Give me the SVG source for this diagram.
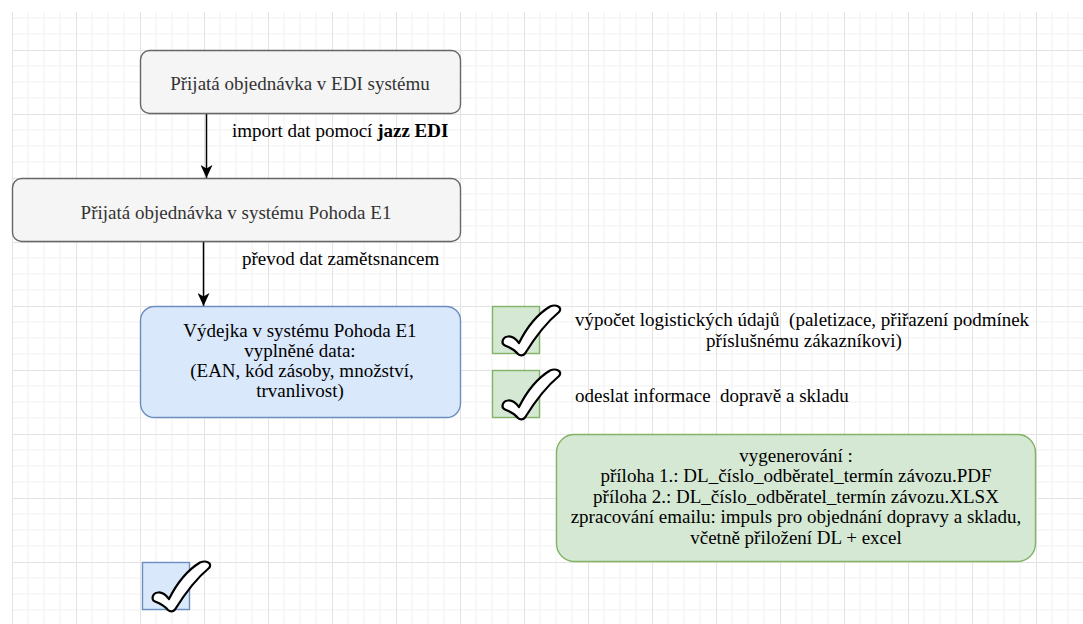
<svg xmlns="http://www.w3.org/2000/svg" width="1083" height="624" viewBox="0 0 1083 624">
  <style>
    text { font-family: "Liberation Serif", "Times New Roman", serif; font-size: 19px; fill: #000; }
    .gray { fill: #f5f5f5; stroke: #666666; stroke-width: 1.4; }
    .blue { fill: #dae8fc; stroke: #6c8ebf; stroke-width: 1.4; }
    .green { fill: #d5e8d4; stroke: #82b366; stroke-width: 1.4; }
    .dark { fill: #333333; }
    .mid { text-anchor: middle; }
    .edge { stroke: #000; stroke-width: 1.5; fill: none; }
    .tick { fill: #fff; stroke: #000; stroke-width: 2.2; stroke-linejoin: round; }
  </style>
  <defs>
    <pattern id="grid" x="12" y="50" width="64" height="64" patternUnits="userSpaceOnUse">
      <path d="M16 0V64M32 0V64M48 0V64M0 16H64M0 32H64M0 48H64" stroke="#f1f1f1" stroke-width="1" fill="none"/>
      <path d="M0.5 0V64M0 0.5H64" stroke="#e3e3e3" stroke-width="1" fill="none"/>
    </pattern>
    <marker id="arrow" markerUnits="userSpaceOnUse" viewBox="0 0 13 12" markerWidth="13" markerHeight="12" refX="13" refY="6" orient="auto">
      <path d="M0 0L13 6L0 12L3.5 6Z" fill="#000"/>
    </marker>
    <path id="tick" class="tick" d="M26 48C22 43 17 41 13 39.5C9 38 10 31 16 30.5C20 30 24 33 27 37C33 25 44 9 58 0.5C64 -2 71 1 67 6C55 16 42 33 33 47.5C31 50 28 50 26 48Z"/>
  </defs>

  <rect x="0" y="0" width="1083" height="624" fill="#fff"/>
  <rect x="12" y="12" width="1071" height="612" fill="url(#grid)"/>

  <g id="connectors">
    <path class="edge" d="M206.5 114V178" marker-end="url(#arrow)"/>
    <path class="edge" d="M203.5 242V306" marker-end="url(#arrow)"/>
    <text x="232" y="137">import dat pomocí <tspan font-weight="bold">jazz EDI</tspan></text>
    <text x="242" y="265">převod dat zamětsnancem</text>
  </g>

  <g id="node-edi">
    <rect class="gray" x="140.5" y="50.5" width="320" height="63" rx="9"/>
    <text class="mid dark" x="300" y="89.5">Přijatá objednávka v EDI systému</text>
  </g>

  <g id="node-pohoda">
    <rect class="gray" x="12.5" y="178.5" width="448" height="63" rx="9"/>
    <text class="mid dark" x="236" y="218.5">Přijatá objednávka v systému Pohoda E1</text>
  </g>

  <g id="node-vydejka">
    <rect class="blue" x="140.5" y="306.5" width="320" height="111" rx="14"/>
    <text class="mid" x="300" y="337">Výdejka v systému Pohoda E1</text>
    <text class="mid" x="300" y="357">vyplněné data:</text>
    <text class="mid" x="302" y="377">(EAN, kód zásoby, množství,</text>
    <text class="mid" x="300" y="397">trvanlivost)</text>
  </g>

  <g id="check-logistika">
    <rect class="green" x="492.5" y="306.5" width="47" height="47"/>
    <use href="#tick" x="492" y="306"/>
    <text class="mid" x="802" y="326">výpočet logistických údajů&#160; (paletizace, přiřazení podmínek</text>
    <text class="mid" x="804" y="347">příslušnému zákazníkovi)</text>
  </g>

  <g id="check-odeslat">
    <rect class="green" x="492.5" y="370.5" width="47" height="47"/>
    <use href="#tick" x="492" y="370"/>
    <text x="575" y="402">odeslat informace&#160; dopravě a skladu</text>
  </g>

  <g id="node-vygenerovani">
    <rect class="green" x="556.5" y="434.5" width="479" height="127" rx="18"/>
    <text class="mid" x="796" y="461.5">vygenerování :</text>
    <text class="mid" x="796" y="482">příloha 1.: DL_číslo_odběratel_termín závozu.PDF</text>
    <text class="mid" x="796" y="502.5">příloha 2.: DL_číslo_odběratel_termín závozu.XLSX</text>
    <text class="mid" x="796" y="523">zpracování emailu: impuls pro objednání dopravy a skladu,</text>
    <text class="mid" x="796" y="543.5">včetně přiložení DL + excel</text>
  </g>

  <g id="check-bottom">
    <rect class="blue" x="142.5" y="562.5" width="47" height="47"/>
    <use href="#tick" x="142" y="562"/>
  </g>
</svg>
